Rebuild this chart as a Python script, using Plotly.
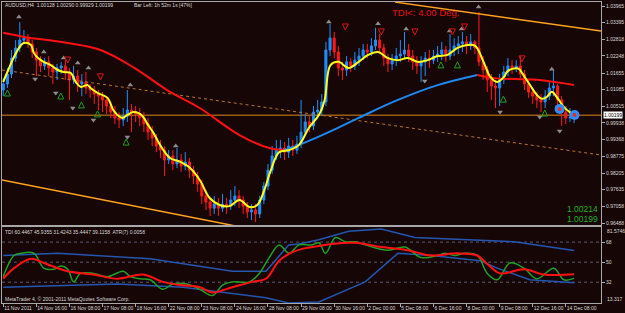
import plotly.graph_objects as go

# ---------------- data ----------------
bar_index = list(range(139))
x_label_bars = [0, 8, 16, 24, 32, 40, 48, 56, 64, 72, 80, 88, 96, 104, 112, 120, 128, 136]
x_labels = ["11 Nov 2011", "14 Nov 16:00", "16 Nov 08:00", "17 Nov 08:00", "18 Nov 16:00",
            "22 Nov 08:00", "23 Nov 08:00", "24 Nov 16:00", "28 Nov 08:00", "29 Nov 08:00",
            "30 Nov 16:00", "2 Dec 00:00", "5 Dec 08:00", "6 Dec 16:00", "8 Dec 00:00",
            "9 Dec 08:00", "12 Dec 16:00", "14 Dec 08:00"]

first_open = 1.0107
closes = [1.0128, 1.0162, 1.0217, 1.0252, 1.0279, 1.0286, 1.0266, 1.0238, 1.0210, 1.0190,
          1.0204, 1.0183, 1.0169, 1.0183, 1.0190, 1.0169, 1.0142, 1.0155, 1.0128, 1.0135,
          1.0114, 1.0107, 1.0093, 1.0086, 1.0073, 1.0052, 1.0031, 1.0011, 1.0004, 1.0017,
          1.0038, 1.0031, 1.0024, 1.0011, 0.9990, 0.9962, 0.9942, 0.9914, 0.9900, 0.9866,
          0.9880, 0.9852, 0.9866, 0.9845, 0.9859, 0.9831, 0.9811, 0.9783, 0.9742, 0.9721,
          0.9700, 0.9714, 0.9700, 0.9714, 0.9707, 0.9728, 0.9742, 0.9728, 0.9707, 0.9687,
          0.9694, 0.9680, 0.9728, 0.9776, 0.9831, 0.9880, 0.9900, 0.9907, 0.9893, 0.9914,
          0.9900, 0.9921, 0.9962, 0.9997, 0.9983, 1.0031, 1.0038, 1.0066, 1.0245, 1.0286,
          1.0238, 1.0183, 1.0176, 1.0204, 1.0190, 1.0210, 1.0224, 1.0245, 1.0238, 1.0259,
          1.0279, 1.0252, 1.0217, 1.0197, 1.0210, 1.0224, 1.0231, 1.0245, 1.0224, 1.0204,
          1.0190, 1.0204, 1.0217, 1.0210, 1.0224, 1.0231, 1.0245, 1.0224, 1.0245, 1.0259,
          1.0266, 1.0273, 1.0259, 1.0273, 1.0252, 1.0204, 1.0176, 1.0142, 1.0121, 1.0114,
          1.0142, 1.0169, 1.0190, 1.0183, 1.0190, 1.0162, 1.0128, 1.0100, 1.0086, 1.0073,
          1.0066, 1.0086, 1.0114, 1.0121, 1.0073, 1.0031, 1.0011, 1.00128, 1.00199]
highs = [1.0148, 1.0183, 1.0245, 1.0279, 1.0341, 1.0314, 1.0300, 1.0279, 1.0252, 1.0224,
         1.0217, 1.0224, 1.0197, 1.0197, 1.0204, 1.0210, 1.0183, 1.0190, 1.0176, 1.0162,
         1.0169, 1.0128, 1.0121, 1.0107, 1.0100, 1.0086, 1.0066, 1.0052, 1.0031, 1.0045,
         1.0107, 1.0059, 1.0052, 1.0045, 1.0031, 1.0011, 0.9983, 0.9955, 0.9935, 0.9914,
         0.9900, 0.9900, 0.9907, 0.9887, 0.9893, 0.9873, 0.9845, 0.9825, 0.9797, 0.9762,
         0.9735, 0.9742, 0.9735, 0.9749, 0.9735, 0.9762, 0.9776, 0.9762, 0.9742, 0.9721,
         0.9714, 0.9714, 0.9742, 0.9790, 0.9852, 0.9914, 0.9935, 0.9935, 0.9928, 0.9942,
         0.9935, 0.9949, 1.0073, 1.0024, 1.0017, 1.0052, 1.0073, 1.0093, 1.0273, 1.0335,
         1.0307, 1.0259, 1.0204, 1.0224, 1.0217, 1.0238, 1.0252, 1.0266, 1.0266, 1.0286,
         1.0321, 1.0300, 1.0266, 1.0231, 1.0231, 1.0252, 1.0279, 1.0307, 1.0266, 1.0245,
         1.0224, 1.0224, 1.0238, 1.0245, 1.0245, 1.0259, 1.0273, 1.0259, 1.0300, 1.0286,
         1.0293, 1.0307, 1.0293, 1.0300, 1.0279, 1.0376, 1.0224, 1.0190, 1.0162, 1.0142,
         1.0162, 1.0190, 1.0217, 1.0210, 1.0210, 1.0224, 1.0176, 1.0142, 1.0114, 1.0100,
         1.0093, 1.0107, 1.0135, 1.0176, 1.0128, 1.0086, 1.0052, 1.0045, 1.00290]
lows = [1.0086, 1.0114, 1.0148, 1.0204, 1.0238, 1.0266, 1.0252, 1.0217, 1.0155, 1.0169,
        1.0176, 1.0155, 1.0128, 1.0142, 1.0162, 1.0142, 1.0073, 1.0128, 1.0100, 1.0086,
        1.0093, 1.0080, 1.0059, 1.0038, 1.0031, 1.0024, 1.0011, 0.9990, 0.9976, 0.9983,
        0.9997, 0.9962, 0.9997, 0.9983, 0.9962, 0.9935, 0.9914, 0.9893, 0.9873, 0.9811,
        0.9852, 0.9831, 0.9838, 0.9825, 0.9831, 0.9804, 0.9783, 0.9756, 0.9714, 0.9694,
        0.9673, 0.9680, 0.9673, 0.9687, 0.9680, 0.9694, 0.9707, 0.9700, 0.9680, 0.9666,
        0.9659, 0.9652, 0.9666, 0.9714, 0.9762, 0.9818, 0.9866, 0.9873, 0.9866, 0.9873,
        0.9880, 0.9887, 0.9907, 0.9949, 0.9962, 0.9969, 1.0011, 1.0017, 1.0052, 1.0224,
        1.0217, 1.0155, 1.0142, 1.0155, 1.0169, 1.0176, 1.0190, 1.0210, 1.0217, 1.0224,
        1.0245, 1.0231, 1.0190, 1.0169, 1.0176, 1.0190, 1.0204, 1.0217, 1.0204, 1.0176,
        1.0162, 1.0135, 1.0155, 1.0183, 1.0197, 1.0204, 1.0210, 1.0204, 1.0210, 1.0224,
        1.0231, 1.0238, 1.0231, 1.0245, 1.0231, 1.0190, 1.0142, 1.0100, 1.0073, 1.0045,
        1.0052, 1.0128, 1.0155, 1.0162, 1.0169, 1.0148, 1.0107, 1.0080, 1.0059, 1.0045,
        1.0031, 1.0045, 1.0073, 1.0086, 1.0045, 0.9983, 0.9990, 0.9997, 0.99929]
opens = [first_open] + closes[:-1]

# fast smoothed line (yellow)
yel_x = [0, 1.2, 2.6, 4.3, 5.0, 6.7, 7.4, 8.4, 9.8, 11.5, 13.2, 14.6, 16.3, 17.5, 18.7, 20.4, 21.1, 22.8,
         25.2, 26.6, 27.6, 28.8, 30.0, 31.4, 32.6, 33.8, 35.0, 36.2, 37.9, 40.3, 42.7, 45.1, 47.5, 49.9,
         52.3, 54.7, 57.1, 59.5, 61.4, 63.1, 64.7, 66.7, 69.1, 71.5, 73.9, 76.3, 77.7, 79.1, 81.1, 83.5,
         85.9, 88.2, 90.6, 93.0, 95.4, 97.8, 100.2, 102.6, 105.0, 107.4, 109.8, 112.2, 114.1, 116.1,
         117.7, 119.4, 121.1, 121.8, 123.0, 124.7, 125.4, 127.3, 129.0, 130.2, 131.4, 132.6, 133.8,
         135.5, 136.9, 138.0]
yel_v = [1.0135, 1.0176, 1.0221, 1.0262, 1.0269, 1.0262, 1.0235, 1.0217, 1.0204, 1.0193, 1.0176, 1.0169,
         1.0166, 1.0135, 1.0118, 1.0124, 1.0114, 1.0097, 1.0080, 1.0038, 1.0021, 1.0011, 1.0021, 1.0031,
         1.0028, 1.0015, 0.9987, 0.9962, 0.9918, 0.9873, 0.9860, 0.9839, 0.9797, 0.9735, 0.9711, 0.9707,
         0.9728, 0.9704, 0.9711, 0.9762, 0.9831, 0.9893, 0.9900, 0.9918, 0.9977, 1.0021, 1.0073, 1.0193,
         1.0204, 1.0183, 1.0204, 1.0228, 1.0238, 1.0217, 1.0210, 1.0217, 1.0204, 1.0210, 1.0224, 1.0228,
         1.0252, 1.0262, 1.0259, 1.0204, 1.0153, 1.0135, 1.0153, 1.0170, 1.0180, 1.0180, 1.0166, 1.0125,
         1.0090, 1.0077, 1.0083, 1.0101, 1.0083, 1.0049, 1.0031, 1.0021]

# slow moving average, coloured by direction
ma_fall1_x = [0, 5, 15.6, 23.5, 31.4, 39.6, 47.5, 57.1, 64.3, 67.9]
ma_fall1_v = [1.0304, 1.0290, 1.0269, 1.0245, 1.0186, 1.0107, 1.0045, 0.9952, 0.9907, 0.9900]
ma_rise_x = [67.9, 71.5, 78.7, 85.9, 95.4, 105, 114.6]
ma_rise_v = [0.9900, 0.9918, 0.9962, 1.0011, 1.0073, 1.0124, 1.0159]
ma_fall2_x = [114.6, 118.7, 129, 138]
ma_fall2_v = [1.0159, 1.0148, 1.0142, 1.0124]

# drawn objects
bid_price = 1.00199
trend_upper_x = [94.7, 144.5]
trend_upper_v = [1.0410, 1.0310]
trend_lower_x = [-0.3, 58.5]
trend_lower_v = [0.9797, 0.9632]
trend_dot_x = [-0.3, 144.5]
trend_dot_v = [1.0176, 0.9883]

# signal markers
frac_up_x = [3.8, 9.8, 14.6, 18.0, 20.6, 30.7, 41.7, 78.7, 90.6, 97.4, 107.9, 110.8, 114.9, 132.6]
frac_up_v = [1.0359, 1.0238, 1.0217, 1.0200, 1.0183, 1.0124, 0.9914, 1.0341, 1.0335, 1.0317, 1.0310,
             1.0317, 1.0393, 1.0179]
frac_dn_x = [7.7, 12.7, 16.8, 21.8, 30.0, 101.9, 120.1, 129.7, 134.5]
frac_dn_v = [1.0145, 1.0097, 1.0045, 1.0004, 0.9945, 1.0138, 1.0031, 1.0014, 0.9966]
buy_x = [1.0, 13.9, 18.9, 22.8, 29.7, 105.8, 109.8, 120.9, 130.9]
buy_v = [1.0107, 1.0097, 1.0066, 1.0035, 0.9938, 1.0204, 1.0204, 1.0086, 1.0038]
sell_x = [15.6, 23.5, 82.7, 91.4, 99.5, 108.6, 111.5, 125.4]
sell_v = [1.0200, 1.0142, 1.0314, 1.0297, 1.0297, 1.0297, 1.0314, 1.0204]
dot_x = [134.5, 138.1]
dot_v = [1.0042, 1.0021]

# TDI sub-window
rsi_x = [0, 2.6, 4.3, 7.4, 9.8, 12.2, 13.9, 15.6, 17, 18.7, 21.8, 25.2, 29, 30.7, 33.1, 35.5, 38.6, 41,
         44.4, 47.5, 50.6, 53, 55.4, 59.5, 61.9, 64.3, 66.7, 69.1, 71.5, 74.6, 76.3, 77.9, 80.3, 82.7,
         85.1, 87.5, 93, 97.1, 101, 105, 106.7, 109.1, 111.5, 114.6, 117, 119.4, 122.5, 125.9, 129,
         133.1, 135.5, 138]
rsi_v = [37, 56, 58, 58, 44.6, 43.6, 46.5, 43.6, 32.3, 39.9, 39.9, 37, 41.8, 37, 35.1, 34.2, 25.6, 30.4,
         30.4, 25.6, 20, 29.4, 32.3, 32.3, 39.9, 54.1, 65.5, 57.9, 65.5, 65.5, 67.4, 57.9, 72.1, 68.3,
         68.3, 65.5, 60.7, 63.6, 54.1, 56, 57.9, 56, 57.9, 56, 39.9, 34.2, 49.3, 44.6, 35.1, 44.6, 34.2, 35.4]
sig_x = [0, 2.6, 6.7, 9.8, 15.6, 21.8, 27.6, 33.8, 38.6, 42.7, 47.5, 50.6, 55.4, 60.2, 63.5, 66.7,
         69.8, 73.1, 76.3, 79.4, 85.1, 91.4, 97.8, 103.4, 109.8, 114.6, 117, 120.1, 125.9, 130.7, 138]
sig_v = [35.1, 44.6, 53.1, 49.3, 41.8, 38.9, 35.1, 38.9, 32.3, 29.4, 27.5, 22.8, 27.5, 32.3, 35.1, 51.2,
         58.8, 62.6, 64.5, 66.4, 67.4, 63.6, 60.7, 56, 57.9, 56, 48.4, 39.9, 43.7, 38.9, 39.1]
band_up_x = [0, 13.2, 35.5, 55.4, 63.5, 69, 71.5, 76.3, 83.5, 91.4, 99.5, 111.5, 123.5, 138]
band_up_v = [56, 57.9, 53.1, 41.8, 41.8, 65.5, 66.4, 70.2, 77.8, 79.7, 72.1, 70.2, 68.3, 60.4]
band_lo_x = [0, 27.6, 43.4, 63.5, 69, 76.3, 87.5, 95.4, 103.4, 111.5, 115.3, 119.4, 127.3, 138]
band_lo_v = [27.5, 30.4, 27.5, 18, 13.3, 14.3, 32.3, 57.9, 56, 53.1, 51.2, 44.6, 34.2, 31.4]
tdi_levels = [68, 50, 32]
tdi_max, tdi_min = 81.5746, 13.317

price_ticks = [1.03965, 1.03395, 1.02818, 1.02248, 1.01655, 1.01085, 1.00515, 0.99938, 0.99368,
               0.98775, 0.98205, 0.97635, 0.97058, 0.96488]

# ---------------- figure ----------------
BG = "#170606"
FRAME = "#A8A8A8"
TXT = "#D8D8D8"
FONT = "Liberation Sans"

fig = go.Figure()

def line(x, y, color, width, xa="x2", ya="y", dash="solid", shape="linear"):
    fig.add_trace(go.Scatter(x=x, y=y, mode="lines", xaxis=xa, yaxis=ya, hoverinfo="skip",
                             line=dict(color=color, width=width, dash=dash, shape=shape)))

# trend lines behind candles
line(trend_dot_x, trend_dot_v, "#B8742A", 1, dash="dot")
line(trend_upper_x, trend_upper_v, "#FFA21E", 1.5)
line(trend_lower_x, trend_lower_v, "#FFA21E", 1.5)

fig.add_trace(go.Candlestick(
    x=bar_index, open=opens, high=highs, low=lows, close=closes, xaxis="x2", yaxis="y",
    increasing=dict(line=dict(color="#1E90FF", width=1), fillcolor="#1E90FF"),
    decreasing=dict(line=dict(color="#FF1A1A", width=1), fillcolor="#FF1A1A"),
    whiskerwidth=0, hoverinfo="skip"))

line(ma_fall1_x, ma_fall1_v, "#FF1010", 2, shape="spline")
line(ma_rise_x, ma_rise_v, "#1E88F0", 2, shape="spline")
line(ma_fall2_x, ma_fall2_v, "#FF1010", 2, shape="spline")
line(yel_x, yel_v, "#FFFF1E", 2, shape="spline")

def marks(x, y, symbol, color, size, lc=None, lw=0):
    fig.add_trace(go.Scatter(x=x, y=y, mode="markers", xaxis="x2", yaxis="y", hoverinfo="skip",
                             marker=dict(symbol=symbol, color=color, size=size,
                                         line=dict(color=lc or color, width=lw))))

marks(frac_up_x, frac_up_v, "triangle-up", "#8C8C8C", 5)
marks(frac_dn_x, frac_dn_v, "triangle-down", "#8C8C8C", 5)
marks(buy_x, buy_v, "arrow-up-open", "#1FA01F", 6, lw=1)
marks(sell_x, sell_v, "arrow-down-open", "#E01010", 6, lw=1)
marks(dot_x, dot_v, "circle", "#2F8CFF", 10)
marks(dot_x, dot_v, "circle", "#E03020", 4)

# TDI
line(band_up_x, band_up_v, "#2456B0", 1.5, xa="x", ya="y2")
line(band_lo_x, band_lo_v, "#2456B0", 1.5, xa="x", ya="y2")
line(rsi_x, rsi_v, "#22A022", 1.5, xa="x", ya="y2", shape="spline")
line(sig_x, sig_v, "#FF1010", 2, xa="x", ya="y2", shape="spline")

shapes = [dict(type="line", xref="paper", x0=0, x1=1, yref="y", y0=bid_price, y1=bid_price,
               line=dict(color="#9A5D14", width=1.5), layer="below")]
for lv in tdi_levels:
    shapes.append(dict(type="line", xref="paper", x0=0, x1=1, yref="y2", y0=lv, y1=lv,
                       line=dict(color="#5A5A78", width=1, dash="dot"), layer="below"))

def ptext(x, y, text, size=5, color=TXT, xanchor="left", yref="paper", yanchor="middle"):
    return dict(xref="paper", yref=yref, x=x, y=y, text=text, showarrow=False,
                xanchor=xanchor, yanchor=yanchor, borderpad=0,
                font=dict(family=FONT, size=size, color=color))

annotations = [
    ptext(0.003, 0.990, "AUDUSD,H4  1.00128 1.00290 0.99929 1.00199"),
    ptext(0.2185, 0.990, "Bar Left: 1h 52m 1s [47%]"),
    ptext(0.649, 0.965, "TDI<: 4.00 Deg.", size=9.5, color="#E81010"),
    ptext(0.997, 0.312, "1.00214", size=8.5, color="#22B022", xanchor="right"),
    ptext(0.997, 0.280, "1.00199", size=8.5, color="#22B022", xanchor="right"),
    ptext(0.003, 0.236, "TDI 60.4467 45.9355 31.4243 35.4447 39.1158  ATR(7) 0.0058"),
    ptext(0.003, 0.012, "MetaTrader 4, \u00a9 2001-2011 MetaQuotes Software Corp."),
    # sub-window min / max labels sit just inside the window edges
    ptext(1.008, tdi_max, f"{tdi_max:g}", yref="y2", yanchor="top"),
    ptext(1.008, tdi_min, f"{tdi_min:g}", yref="y2", yanchor="bottom"),
    dict(xref="paper", yref="y", x=1.003, y=bid_price, text="1.00199", showarrow=False,
         xanchor="left", yanchor="middle", bgcolor="#FFFFFF", borderpad=0,
         font=dict(family=FONT, size=5, color="#000000")),
]

XR = [-0.3, 144.5]
axis_common = dict(showgrid=False, zeroline=False, showline=True, linecolor=FRAME, linewidth=1,
                   mirror=True)
fig.update_layout(
    width=625, height=313, margin=dict(l=1, r=20, t=2, b=10),
    paper_bgcolor=BG, plot_bgcolor=BG, showlegend=False,
    font=dict(family=FONT, size=5, color=TXT),
    xaxis=dict(domain=[0, 1], anchor="y2", range=XR, tickvals=x_label_bars, ticktext=x_labels,
               ticklabelposition="outside right", ticks="outside", ticklen=3, tickcolor=FRAME,
               tickangle=0, tickfont=dict(family=FONT, size=5, color=TXT), **axis_common),
    xaxis2=dict(domain=[0, 1], anchor="y", matches="x", showticklabels=False, ticks="",
                rangeslider=dict(visible=False), **axis_common),
    yaxis=dict(domain=[0.2591, 1], anchor="x2", side="right", range=[0.96419, 1.04103],
               tickvals=price_ticks, ticktext=[f"{v:.5f}" for v in price_ticks],
               ticks="outside", ticklen=3, tickcolor=FRAME,
               tickfont=dict(family=FONT, size=5, color=TXT), **axis_common),
    yaxis2=dict(domain=[0, 0.2525], anchor="x", side="right", range=[tdi_min, tdi_max],
                tickvals=tdi_levels, ticktext=[str(v) for v in tdi_levels],
                ticks="outside", ticklen=3, tickcolor=FRAME,
                tickfont=dict(family=FONT, size=5, color=TXT), **axis_common),
    shapes=shapes, annotations=annotations,
)

fig.write_html("out.html")
